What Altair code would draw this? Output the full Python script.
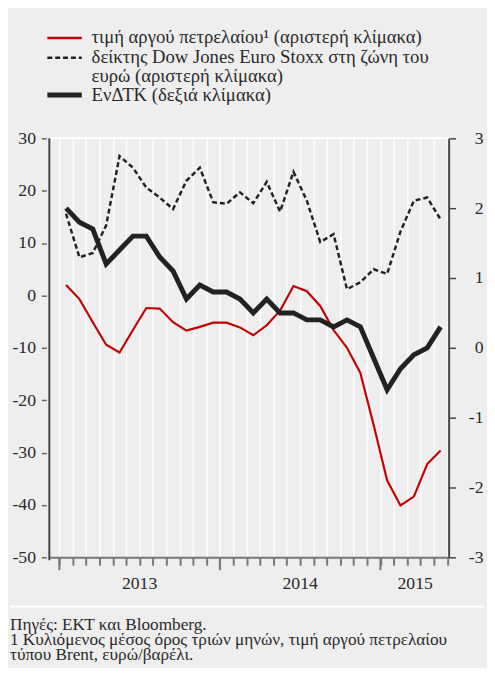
import altair as alt
import pandas as pd

# ---- data (Jan 2013 .. May 2015, monthly) ----
month_index = list(range(29))
oil = [2.0, -0.7, -5.1, -9.4, -10.9, -6.6, -2.4, -2.5, -5.1, -6.7, -6.0, -5.2, -5.2, -6.1,
       -7.6, -5.7, -2.9, 1.8, 0.8, -2.0, -6.6, -10.0, -14.8, -24.8, -35.3, -40.1, -38.4,
       -32.2, -29.6]
stoxx = [15.6, 7.3, 8.1, 13.4, 26.6, 24.4, 20.6, 18.7, 16.5, 21.9, 24.4, 17.8, 17.5, 19.7,
         17.6, 21.7, 16.0, 23.6, 18.1, 10.2, 11.7, 1.2, 2.5, 5.0, 4.1, 12.2, 18.1, 18.7, 14.5]
hicp = [2.0, 1.8, 1.7, 1.2, 1.4, 1.6, 1.6, 1.3, 1.1, 0.7, 0.9, 0.8, 0.8, 0.7, 0.5, 0.7, 0.5,
        0.5, 0.4, 0.4, 0.3, 0.4, 0.3, -0.15, -0.6, -0.3, -0.1, 0.0, 0.3]
year_labels = ["2013", "2014", "2015"]
year_centers = [6, 18, 26.6]
year_starts = [0, 12, 24]
left_ticks = [-50, -40, -30, -20, -10, 0, 10, 20, 30]
right_ticks = [-3, -2, -1, 0, 1, 2, 3]
legend_labels = ["τιμή αργού πετρελαίου¹ (αριστερή κλίμακα)",
                 "δείκτης Dow Jones Euro Stoxx στη ζώνη του",
                 "ευρώ (αριστερή κλίμακα)",
                 "ΕνΔΤΚ (δεξιά κλίμακα)"]
footer_lines = ["Πηγές: ΕΚΤ και Bloomberg.",
                "1 Κυλιόμενος μέσος όρος τριών μηνών, τιμή αργού πετρελαίου",
                "τύπου Brent, ευρώ/βαρέλι."]

t = [m + 0.5 for m in month_index]
df_oil = pd.DataFrame({"t": t, "v": oil})
df_stoxx = pd.DataFrame({"t": t, "v": stoxx})
df_hicp = pd.DataFrame({"t": t, "v": hicp})
df_years = pd.DataFrame({"t": year_centers, "label": year_labels})
df_ystart = pd.DataFrame({"t": year_starts})

W, H = 406, 426
FONT = "Liberation Serif, Times New Roman, serif"
RED = "#c00000"
DARK = "#222222"
TXT = "#2a2a2a"

xscale = alt.Scale(domain=[-0.75, 29.1], nice=False, zero=False)
lscale = alt.Scale(domain=[-50, 30], nice=False, zero=False)
rscale = alt.Scale(domain=[-3, 3], nice=False, zero=False)

x_axis = alt.Axis(values=list(range(30)), grid=True, gridColor="white", gridWidth=1.5,
                  labels=False, tickSize=8, tickColor="#777777", tickWidth=2,
                  domainColor="#777777", domainWidth=2, title=None)
left_axis = alt.Axis(values=left_ticks, orient="left", grid=False, domain=False, offset=3,
                     tickSize=5, tickColor="#666666", tickWidth=1.5,
                     labelExpr="'' + datum.value",
                     labelFont=FONT, labelFontSize=18, labelColor=TXT,
                     labelPadding=6, title=None)
right_axis = alt.Axis(values=right_ticks, orient="right", grid=False, domain=True,
                      domainColor="#444444", domainWidth=2, tickSize=7,
                      tickColor="#444444", tickWidth=1.5, labelExpr="'' + datum.value",
                      labelFont=FONT, labelFontSize=18, labelColor=TXT,
                      labelAlign="right", labelPadding=28, title=None)

X = alt.X("t:Q", scale=xscale, axis=x_axis)
one = alt.Data(values=[{}])


def txt(label, x, y, size=19, color=TXT):
    return alt.Chart(one).mark_text(text=label, font=FONT, fontSize=size, color=color,
                                    align="left", baseline="alphabetic").encode(
        x=alt.value(x), y=alt.value(y))


def rule(x, x2, y, color, width, dash=None):
    kw = dict(color=color, strokeWidth=width)
    if dash:
        kw["strokeDash"] = dash
    return alt.Chart(one).mark_rule(**kw).encode(
        x=alt.value(x), x2=alt.value(x2), y=alt.value(y))


oil_line = alt.Chart(df_oil).mark_line(color=RED, strokeWidth=2.2).encode(
    x=X, y=alt.Y("v:Q", scale=lscale, axis=left_axis))
stoxx_line = alt.Chart(df_stoxx).mark_line(color=DARK, strokeWidth=2.5,
                                           strokeDash=[5, 3]).encode(
    x=X, y=alt.Y("v:Q", scale=lscale, axis=left_axis))
left = alt.layer(oil_line, stoxx_line)

hicp_line = alt.Chart(df_hicp).mark_line(color=DARK, strokeWidth=5).encode(
    x=X, y=alt.Y("v:Q", scale=rscale, axis=right_axis))

year_text = alt.Chart(df_years).mark_text(font=FONT, fontSize=18, color=TXT,
                                          align="center", baseline="alphabetic").encode(
    x=X, y=alt.value(H + 32), text="label:N")
year_ticks = alt.Chart(df_ystart).mark_rule(color="#777777", strokeWidth=2).encode(
    x=X, y=alt.value(H), y2=alt.value(H + 13))

frame = [
    rule(0, W, 0, "white", 2),
    alt.Chart(one).mark_rule(color="#444444", strokeWidth=2).encode(
        x=alt.value(0), y=alt.value(0), y2=alt.value(H + 3)),
    # legend
    rule(-2, 33, -102, RED, 2.5),
    rule(-2, 33, -82, DARK, 2.5, [5, 3]),
    rule(-2, 33, -44, DARK, 5),
    txt(legend_labels[0], 43, -97),
    txt(legend_labels[1], 43, -77),
    txt(legend_labels[2], 43, -57),
    txt(legend_labels[3], 43, -38),
    # footer
    rule(-40, 442, 476, "white", 2),
    txt(footer_lines[0], -40, 500, 17.5),
    txt(footer_lines[1], -40, 515, 17.5),
    txt(footer_lines[2], -40, 530, 17.5),
]

chart = alt.layer(left, hicp_line, year_text, year_ticks, *frame).resolve_scale(
    y="independent"
).properties(
    width=W, height=H,
    autosize=alt.AutoSizeParams(type="none"),
    padding={"left": 42, "top": 127, "right": 39, "bottom": 107},
    background="#eeeeee",
).configure_view(stroke=None, fill=None).configure(font=FONT)

chart.save("out.html", embed_options={"renderer": "svg", "actions": False})
